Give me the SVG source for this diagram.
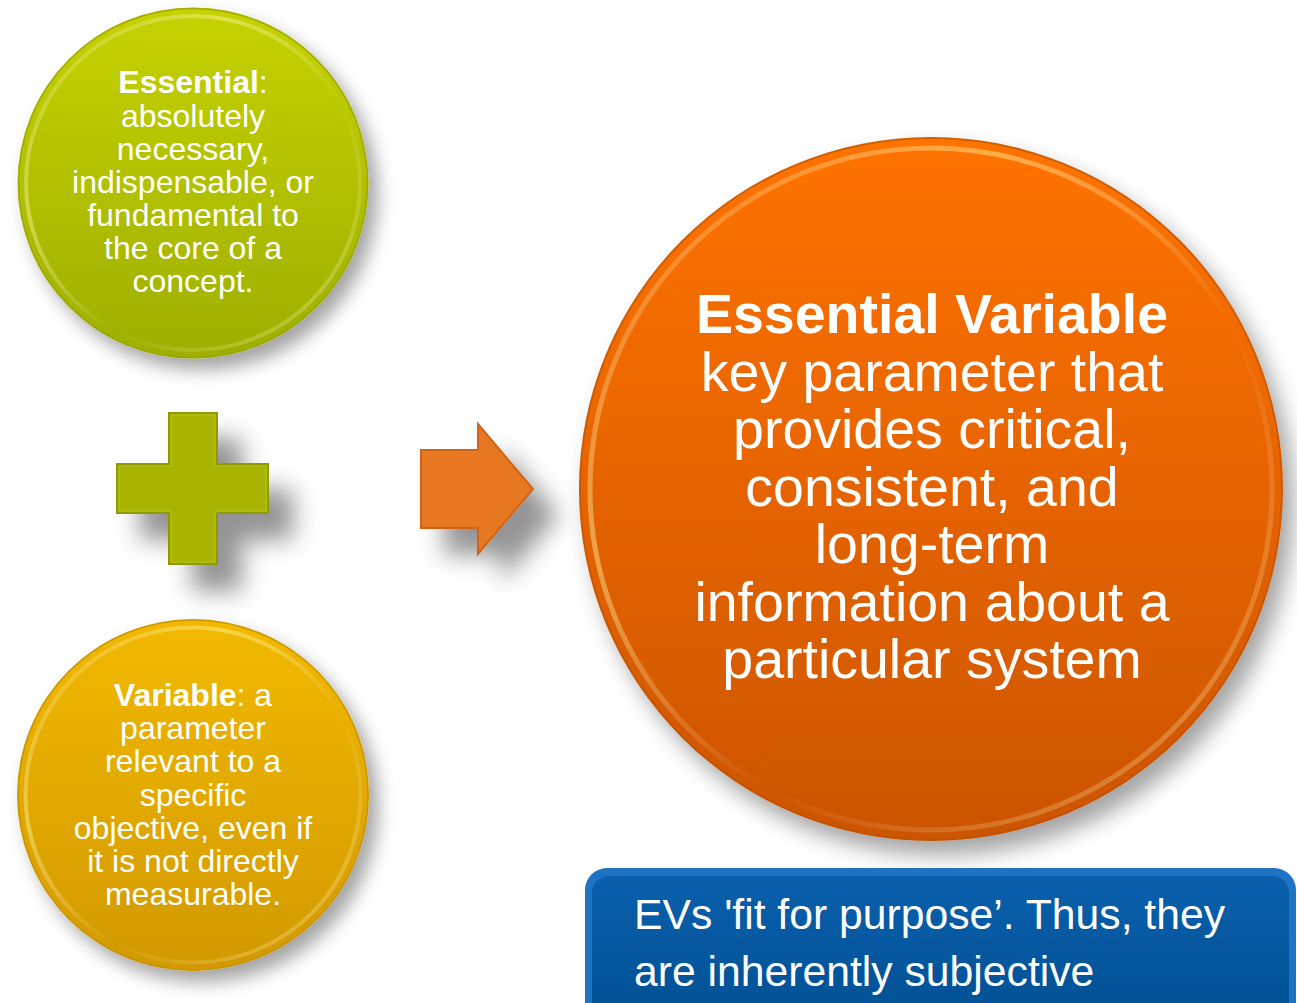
<svg xmlns="http://www.w3.org/2000/svg" width="1297" height="1003" viewBox="0 0 1297 1003">
  <defs>
    <style>
      .txt { font-family: "Liberation Sans", Arial, sans-serif; fill: #ffffff; text-anchor: middle; }
      .small { font-size: 32px; }
      .big { font-size: 55.5px; }
      .note { font-family: "Liberation Sans", Arial, sans-serif; fill: #ffffff; font-size: 42.7px; }
      .b { font-weight: bold; }
    </style>
    <filter id="shadowSoft" x="-30%" y="-30%" width="170%" height="170%">
      <feGaussianBlur in="SourceAlpha" stdDeviation="9"/>
      <feOffset dx="9" dy="11" result="blur"/>
      <feFlood flood-color="#000000" flood-opacity="0.36"/>
      <feComposite in2="blur" operator="in"/>
      <feMerge><feMergeNode/><feMergeNode in="SourceGraphic"/></feMerge>
    </filter>
    <filter id="shadowBig" x="-30%" y="-30%" width="170%" height="170%">
      <feGaussianBlur in="SourceAlpha" stdDeviation="11"/>
      <feOffset dx="10" dy="14" result="blur"/>
      <feFlood flood-color="#000000" flood-opacity="0.36"/>
      <feComposite in2="blur" operator="in"/>
      <feMerge><feMergeNode/><feMergeNode in="SourceGraphic"/></feMerge>
    </filter>
    <filter id="shadowShape" x="-50%" y="-50%" width="220%" height="220%">
      <feGaussianBlur in="SourceAlpha" stdDeviation="12"/>
      <feOffset dx="24" dy="26" result="blur"/>
      <feFlood flood-color="#000000" flood-opacity="0.42"/>
      <feComposite in2="blur" operator="in"/>
      <feMerge><feMergeNode/><feMergeNode in="SourceGraphic"/></feMerge>
    </filter>
    <linearGradient id="gGreen" x1="0" y1="0" x2="0" y2="1">
      <stop offset="0" stop-color="#C6D200"/>
      <stop offset="1" stop-color="#9EAF00"/>
    </linearGradient>
    <linearGradient id="gYellow" x1="0" y1="0" x2="0" y2="1">
      <stop offset="0" stop-color="#F2B900"/>
      <stop offset="1" stop-color="#D29900"/>
    </linearGradient>
    <linearGradient id="gOrange" x1="0" y1="0" x2="0" y2="1">
      <stop offset="0" stop-color="#FF7300"/>
      <stop offset="1" stop-color="#CC5400"/>
    </linearGradient>
    <linearGradient id="rimLight" x1="0" y1="0" x2="1" y2="1">
      <stop offset="0" stop-color="#ffffff" stop-opacity="0.0"/>
      <stop offset="0.3" stop-color="#fff6a0" stop-opacity="0.45"/>
      <stop offset="0.6" stop-color="#ffffff" stop-opacity="0.0"/>
      <stop offset="1" stop-color="#fff6a0" stop-opacity="0.4"/>
    </linearGradient>
    <linearGradient id="rimDark" x1="0" y1="0" x2="0" y2="1">
      <stop offset="0" stop-color="#000000" stop-opacity="0.18"/>
      <stop offset="1" stop-color="#000000" stop-opacity="0.05"/>
    </linearGradient>
    <linearGradient id="gBlue" x1="0" y1="0" x2="0" y2="1">
      <stop offset="0" stop-color="#0A60AC"/>
      <stop offset="1" stop-color="#004F92"/>
    </linearGradient>
  </defs>

  <!-- Essential definition (green button) -->
  <g id="node-essential">
    <circle cx="193" cy="183" r="175.5" fill="url(#gGreen)" filter="url(#shadowSoft)"/>
    <circle cx="193" cy="183" r="174.5" fill="none" stroke="url(#rimDark)" stroke-width="1.5"/>
    <circle cx="193" cy="183" r="167" fill="none" stroke="url(#rimLight)" stroke-width="4"/>
    <text class="txt small" x="193" y="93"><tspan class="b">Essential</tspan>:</text>
    <text class="txt small" x="193" y="126.5">absolutely</text>
    <text class="txt small" x="193" y="159.5">necessary,</text>
    <text class="txt small" x="193" y="192.5">indispensable, or</text>
    <text class="txt small" x="193" y="226">fundamental to</text>
    <text class="txt small" x="193" y="259">the core of a</text>
    <text class="txt small" x="193" y="292">concept.</text>
  </g>

  <!-- Plus sign -->
  <g id="node-plus">
    <path d="M169 413 H217 V464 H268 V513 H217 V564 H169 V513 H117 V464 H169 Z" fill="#A9B400" stroke="#8E9A00" stroke-width="2" filter="url(#shadowShape)"/>
    <path d="M171 415 H215 V466 H266 V511 H215 V562 H171 V511 H119 V466 H171 Z" fill="none" stroke="#C4CC40" stroke-width="1" stroke-opacity="0.5"/>
  </g>

  <!-- Variable definition (amber button) -->
  <g id="node-variable">
    <circle cx="193" cy="795" r="176" fill="url(#gYellow)" filter="url(#shadowSoft)"/>
    <circle cx="193" cy="795" r="175" fill="none" stroke="url(#rimDark)" stroke-width="1.5"/>
    <circle cx="193" cy="795" r="167.5" fill="none" stroke="url(#rimLight)" stroke-width="4"/>
    <text class="txt small" x="193" y="706"><tspan class="b">Variable</tspan>: a</text>
    <text class="txt small" x="193" y="739">parameter</text>
    <text class="txt small" x="193" y="772">relevant to a</text>
    <text class="txt small" x="193" y="806">specific</text>
    <text class="txt small" x="193" y="839">objective, even if</text>
    <text class="txt small" x="193" y="872">it is not directly</text>
    <text class="txt small" x="193" y="905">measurable.</text>
  </g>

  <!-- Flow arrow -->
  <g id="connectors">
    <path d="M421 450 H478 V424 L533 489 L478 554 V528 H421 Z" fill="#E87722" stroke="#CF6418" stroke-width="2" filter="url(#shadowShape)"/>
  </g>

  <!-- Essential Variable (large orange button) -->
  <g id="node-essential-variable">
    <circle cx="931" cy="489" r="352" fill="url(#gOrange)" filter="url(#shadowBig)"/>
    <circle cx="931" cy="489" r="351" fill="none" stroke="url(#rimDark)" stroke-width="2"/>
    <circle cx="931" cy="489" r="341" fill="none" stroke="url(#rimLight)" stroke-width="5"/>
    <text class="txt big b" x="932" y="333">Essential Variable</text>
    <text class="txt big" x="932" y="390.5">key parameter that</text>
    <text class="txt big" x="932" y="448">provides critical,</text>
    <text class="txt big" x="932" y="505.5">consistent, and</text>
    <text class="txt big" x="932" y="563">long-term</text>
    <text class="txt big" x="932" y="620.5">information about a</text>
    <text class="txt big" x="932" y="678">particular system</text>
  </g>

  <!-- Note box -->
  <g id="node-note">
    <rect x="585" y="868" width="711" height="160" rx="22" fill="#1E74C2"/>
    <rect x="592" y="876" width="697" height="150" rx="17" fill="url(#gBlue)"/>
    <text class="note" x="634" y="929">EVs 'fit for purpose’. Thus, they</text>
    <text class="note" x="634" y="986">are inherently subjective</text>
  </g>
</svg>
